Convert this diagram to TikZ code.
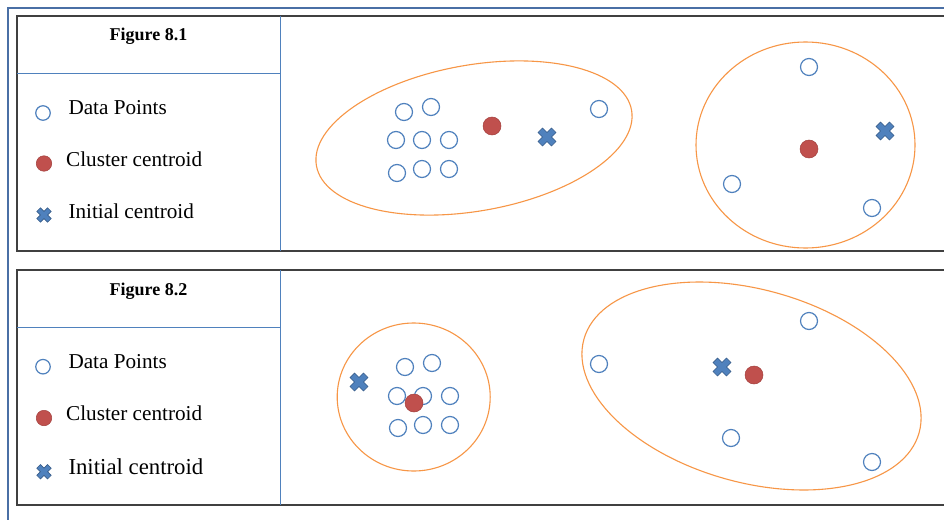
\documentclass[tikz,border=0pt]{standalone}
\usepackage{fontspec}
\setmainfont{Liberation Serif}
\usepackage{tikz}
\usetikzlibrary{positioning}
\definecolor{ptblue}{HTML}{4F81BD}
\definecolor{ccred}{HTML}{C0504D}
\definecolor{ccedge}{HTML}{A3403D}
\definecolor{icedge}{HTML}{385D8A}
\definecolor{hullorange}{HTML}{F79646}
\definecolor{framblue}{HTML}{4A6FA5}
\definecolor{tabgray}{HTML}{404040}

\tikzset{
  icross/.pic={
    \filldraw[fill=ptblue, draw=icedge, line width=0.6pt, rotate=45]
      (3.2pt,9.5pt) -- (3.2pt,3.2pt) -- (9.5pt,3.2pt) -- (9.5pt,-3.2pt)
      -- (3.2pt,-3.2pt) -- (3.2pt,-9.5pt) -- (-3.2pt,-9.5pt) -- (-3.2pt,-3.2pt)
      -- (-9.5pt,-3.2pt) -- (-9.5pt,3.2pt) -- (-3.2pt,3.2pt) -- (-3.2pt,9.5pt)
      -- cycle;
  }
}

\begin{document}
\begin{tikzpicture}[x=1pt, y=-1pt,
  datapt/.style={circle, draw=ptblue, line width=1.2pt, minimum size=17pt,
    inner sep=0pt},
  centroid/.style={circle, fill=ccred, draw=ccedge, line width=0.5pt,
    minimum size=18pt, inner sep=0pt},
  keypt/.style={datapt, minimum size=14.5pt},
  keycc/.style={centroid, minimum size=15.5pt},
  keytext/.style={anchor=base west, inner sep=0pt,
    font=\fontsize{21.2}{24}\selectfont},
  figtitle/.style={anchor=base, inner sep=0pt,
    font=\fontsize{18}{22}\selectfont\bfseries},
  hull/.style={draw=hullorange, line width=1.1pt},
  frame/.style={draw=framblue, line width=2pt},
  tabline/.style={draw=tabgray, line width=1.3pt},
  divline/.style={draw=ptblue, line width=1pt}]
\useasboundingbox (0,0) rectangle (944,519);
\fill[white] (0,0) rectangle (944,519);

% outer frame
\draw[frame] (7.5,530) -- (7.5,8) -- (950,8);

% Figure 8.1
\draw[tabline] (950,16) -- (17,16) -- (17,251) -- (950,251);
\draw[divline] (280.5,16) -- (280.5,251);
\draw[divline] (17,73) -- (280.5,73);
\node[figtitle] (title1) at (148.5,40.7) {Figure 8.1};
\node[keypt] (key1pt) at (43,113) {};
\node[keytext] (key1pttext) at (68.3,114.3) {Data Points};
\node[keycc] (key1cc) at (44,163.5) {};
\node[keytext] (key1cctext) at (66,166.7) {Cluster centroid};
\pic[scale=0.8] (key1ic) at (44,215) {icross};
\node[keytext] (key1ictext) at (68.3,218.3) {Initial centroid};

% left cluster
\draw[hull, rotate around={10:(474,138)}] (474,138)
  ellipse [x radius=160pt, y radius=73pt];
\node[datapt] (a1) at (404,112) {};
\node[datapt] (a2) at (431,107) {};
\node[datapt] (a3) at (396,140) {};
\node[datapt] (a4) at (422,140) {};
\node[datapt] (a5) at (449,140) {};
\node[datapt] (a6) at (397,173) {};
\node[datapt] (a7) at (422,169) {};
\node[datapt] (a8) at (449,169) {};
\node[datapt] (a9) at (599,109) {};
\node[centroid] (acc) at (492,126) {};
\pic (aic) at (547,137) {icross};

% right cluster
\draw[hull] (805.5,145) ellipse [x radius=109.5pt, y radius=103pt];
\node[datapt] (b1) at (809,67) {};
\node[datapt] (b2) at (732,184) {};
\node[datapt] (b3) at (872,208) {};
\node[centroid] (bcc) at (809,149) {};
\pic (bic) at (885,131) {icross};

% Figure 8.2
\draw[tabline] (950,270) -- (17,270) -- (17,505) -- (950,505);
\draw[divline] (280.5,270) -- (280.5,505);
\draw[divline] (17,327) -- (280.5,327);
\node[figtitle] (title2) at (148.5,295) {Figure 8.2};
\node[keypt] (key2pt) at (43,366.7) {};
\node[keytext] (key2pttext) at (68.3,368.3) {Data Points};
\node[keycc] (key2cc) at (44,418) {};
\node[keytext] (key2cctext) at (66,420.7) {Cluster centroid};
\pic[scale=0.8] (key2ic) at (44,471.7) {icross};
\node[keytext, font=\fontsize{22.8}{26}\selectfont] (key2ictext)
  at (68.3,474.3) {Initial centroid};

% left cluster
\draw[hull] (413.7,397) ellipse [x radius=76.5pt, y radius=74pt];
\node[datapt] (c1) at (405,367) {};
\node[datapt] (c2) at (432,363) {};
\node[datapt] (c3) at (397,396) {};
\node[datapt] (c4) at (423,396) {};
\node[datapt] (c5) at (450,396) {};
\node[datapt] (c6) at (398,428) {};
\node[datapt] (c7) at (423,425) {};
\node[datapt] (c8) at (450,425) {};
\node[centroid] (ccc) at (414,403) {};
\pic (cic) at (359,382) {icross};

% right cluster
\draw[hull, rotate around={-15.6:(751.5,386)}] (751.5,386)
  ellipse [x radius=174pt, y radius=96.4pt];
\node[datapt] (d1) at (809,321) {};
\node[datapt] (d2) at (599,364) {};
\node[datapt] (d3) at (731,438) {};
\node[datapt] (d4) at (872,462) {};
\node[centroid] (dcc) at (754,375) {};
\pic (dic) at (722,367) {icross};
\end{tikzpicture}
\end{document}
